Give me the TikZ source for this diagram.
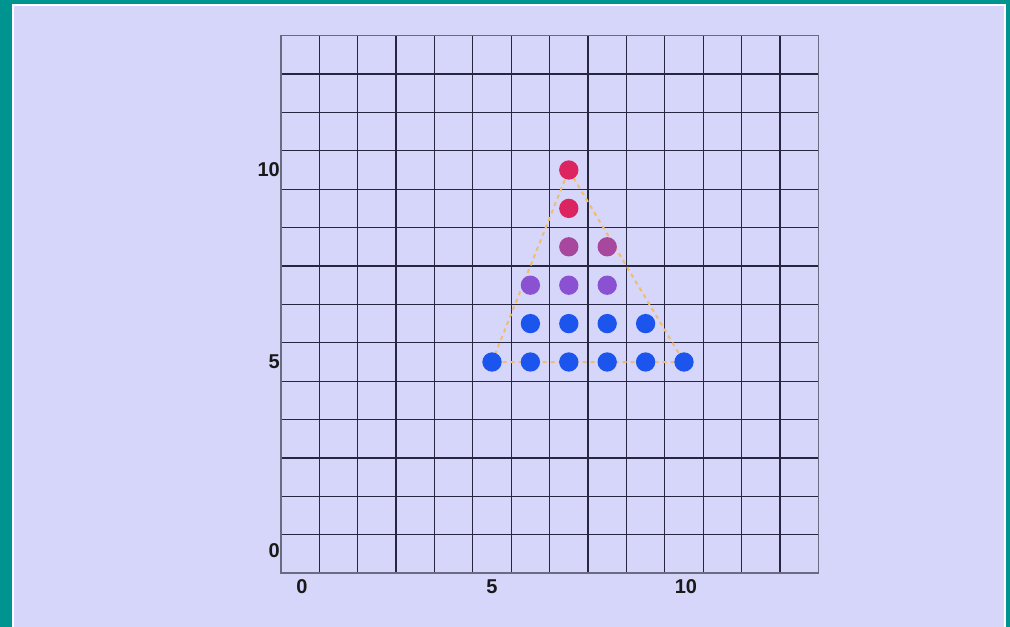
\documentclass[tikz,border=0pt]{standalone}
\usepackage{fontspec}
\setmainfont{Liberation Sans}
\definecolor{teal0}{HTML}{009490}
\definecolor{lav}{HTML}{D6D6FA}
\definecolor{gridc}{HTML}{262640}
\definecolor{framec}{HTML}{6A6A80}
\definecolor{cblue}{HTML}{1C55EE}
\definecolor{cpurp}{HTML}{8A52D2}
\definecolor{cmag}{HTML}{A8479E}
\definecolor{cred}{HTML}{DC2560}
\definecolor{orng}{HTML}{F0BC6E}
\tikzset{
  gridline/.style={draw=gridc, line width=1pt},
  dot/.style={circle, inner sep=0pt, minimum size=14.5pt, fill=#1},
  lbl/.style={font=\fontsize{15pt}{15pt}\selectfont\bfseries, text=black!90, inner sep=0pt},
  tri/.style={draw=orng, line width=1.5pt, dash pattern=on 3pt off 3pt}
}
\begin{document}
\begin{tikzpicture}[x=0.75pt,y=-0.75pt]
\useasboundingbox (0,0) rectangle (1010,627);
\fill[teal0] (0,0) rectangle (1010,627);
\fill[white] (12,4) rectangle (1006,627);
\fill[lav] (14,6) rectangle (1004,627);
\begin{scope}[shift={(300,554)}, x=28.8pt, y=28.8pt]
  \foreach \i in {0,...,14} {
    \draw[gridline] (\i-0.5,-0.5) -- (\i-0.5,13.5);
    \draw[gridline] (-0.5,\i-0.5) -- (13.5,\i-0.5);
  }
  \draw[draw=framec, line width=1.2pt] (-0.5,-0.5) rectangle (13.5,13.5);
  % axis labels
  \node[lbl, anchor=east] (y0) at (-0.52,0.1) {0};
  \node[lbl, anchor=east] (y5) at (-0.52,5) {5};
  \node[lbl, anchor=east] (y10) at (-0.52,10) {10};
  \node[lbl] (x0) at (0.05,-0.86) {0};
  \node[lbl] (x5) at (5,-0.86) {5};
  \node[lbl] (x10) at (10.05,-0.86) {10};
  % triangle corners
  \coordinate (tA) at (5,5);
  \coordinate (tB) at (7,10);
  \coordinate (tC) at (10,5);
  \draw[tri] (tA) -- (tB) -- (tC) -- cycle;
  % dots
  \foreach \x in {5,...,10} \node[dot=cblue] (d\x-5) at (\x,5) {};
  \foreach \x in {6,...,9} \node[dot=cblue] (d\x-6) at (\x,6) {};
  \foreach \x in {6,...,8} \node[dot=cpurp] (d\x-7) at (\x,7) {};
  \foreach \x in {7,8} \node[dot=cmag] (d\x-8) at (\x,8) {};
  \node[dot=cred] (d7-9) at (7,9) {};
  \node[dot=cred] (d7-10) at (7,10) {};
\end{scope}
\end{tikzpicture}
\end{document}
